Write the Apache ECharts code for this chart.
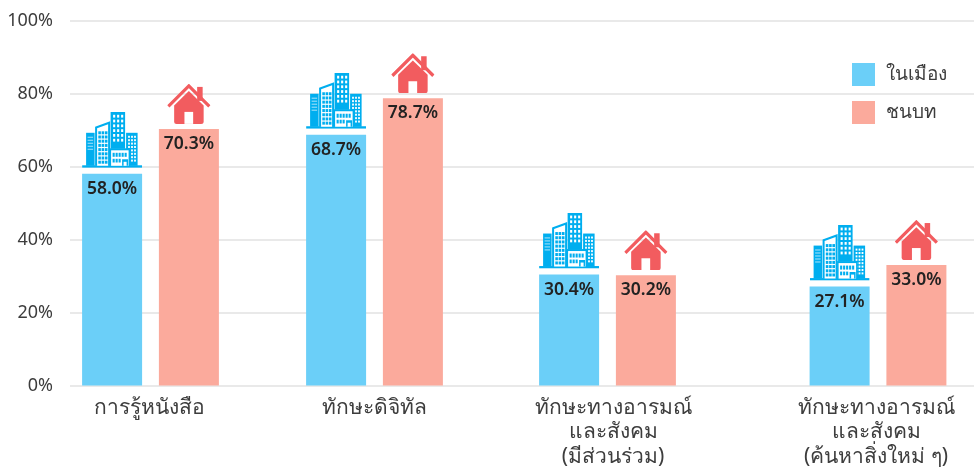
<!DOCTYPE html>
<html><head><meta charset="utf-8">
<style>html,body{margin:0;padding:0;background:#fff}#c{width:974px;height:469px}</style>
<script src="https://cdn.jsdelivr.net/npm/echarts@6/dist/echarts.min.js"></script>
</head><body><div id="c"></div>
<script>
const categories = ['การรู้หนังสือ', 'ทักษะดิจิทัล', 'ทักษะทางอารมณ์\nและสังคม\n(มีส่วนร่วม)', 'ทักษะทางอารมณ์\nและสังคม\n(ค้นหาสิ่งใหม่ ๆ)'];
const urbanValues = [58.0, 68.7, 30.4, 27.1];
const ruralValues = [70.3, 78.7, 30.2, 33.0];
const seriesNames = ['ในเมือง', 'ชนบท'];
const slots = [[70,161,[0,2,0,0]],[231,287,[0,0,0,0]],[518,179,[0,0,0,11]],[782,192,[0,4,0,0]]]; // grid left, width, label padding

const FONT = '"Noto Sans","Open Sans",sans-serif';
const BLUE='#00AEEF', RED='#F25C5F';
function cells(xs, ys, w, h, c){let s='';for(const y of ys)for(const x of xs)s+=`<rect x="${x}" y="${y}" width="${w}" height="${h}" fill="${c}"/>`;return s;}
function range(a,b,st){const r=[];for(let v=a;v<=b;v+=st)r.push(v);return r;}
const buildingSvg = `<svg xmlns="http://www.w3.org/2000/svg" width="240" height="224" viewBox="0 0 60 56">`
 +`<rect x="0" y="53.5" width="60" height="2.5" fill="${BLUE}"/>`
 +`<rect x="4" y="21" width="8.5" height="33" fill="${BLUE}"/>`
 +cells([5.5],[25,28,31,34,37],5.5,.8,'#d5f1fc')
 +`<path d="M13 54V15L28 9.5V54Z" fill="${BLUE}"/><path d="M15 54V16.5L26 12.5V54Z" fill="#fff"/>`
 +cells([16.2,19.5,22.8],range(19.5,50,4.2),2.6,3,BLUE)
 +`<rect x="28.5" y="0" width="14.5" height="37" fill="${BLUE}"/>`
 +cells([31,35,39],range(3,31,4.8),2.1,2.8,'#fff')
 +`<rect x="44" y="21" width="11.5" height="33" fill="${BLUE}"/>`
 +cells([46,49,52],range(24,50,3.4),1.8,2,'#fff')
 +`<rect x="27.5" y="36.5" width="20.5" height="17.5" fill="${BLUE}"/><rect x="29" y="38.5" width="17.5" height="15.5" fill="#fff"/>`
 +cells([30.5,33.5,36.5,39.5,42.5],[41],2.1,4,BLUE)
 +cells([30.5,33.5,36.5],[47],2.1,3.7,BLUE)
 +`<path d="M40 54V47.5H46V54Z" fill="${BLUE}"/><rect x="41.5" y="50" width="3" height="4" fill="#fff"/>`
 +`</svg>`;
const houseSvg = `<svg xmlns="http://www.w3.org/2000/svg" width="174" height="160" viewBox="0 0 43.5 40">`
 +`<rect x="30" y="3" width="5.5" height="14" fill="${RED}"/>`
 +`<path d="M1.2 22.5L21.7 2L42.2 22.5" fill="none" stroke="${RED}" stroke-width="3.2"/>`
 +`<path d="M7 21.5L21.7 7.2L36.5 21.5V37.5Q36.5 40 34 40H9.5Q7 40 7 37.5Z" fill="${RED}"/>`
 +`<rect x="17.3" y="28" width="8.7" height="12" fill="#fff"/></svg>`;
const uri = s => 'image://data:image/svg+xml;charset=utf-8,' + encodeURIComponent(s);

const grids = [{left:70, right:0, top:20.5, height:365}];
const xAxes = [{type:'category', gridIndex:0, data:[''], show:false}];
const yAxes = [{type:'value', gridIndex:0, min:0, max:100, interval:20,
  axisLine:{show:false}, axisTick:{show:false},
  axisLabel:{formatter:'{value}%', margin:17, color:'#3d3d3d', fontSize:18, fontFamily:FONT, padding:[2,0,0,0]},
  splitLine:{lineStyle:{color:'#e2e2e2', width:1.5}}}];
const series = [];
categories.forEach((cat,i)=>{
  const g=i+1;
  grids.push({left:slots[i][0], width:slots[i][1], top:20.5, height:365});
  xAxes.push({type:'category', gridIndex:g, data:[cat], axisLine:{show:false}, axisTick:{show:false},
    axisLabel:{interval:0, margin:10, color:'#3d3d3d', fontSize:21, lineHeight:24.5, fontFamily:FONT, padding:slots[i][2]}});
  yAxes.push({type:'value', gridIndex:g, min:0, max:100, interval:20, show:false});
  [[urbanValues,'#6BCFF8',uri(buildingSvg),[60,56],-34],[ruralValues,'#FBAA9C',uri(houseSvg),[43.5,40],-25]].forEach((s,k)=>{
    series.push({type:'bar', name:seriesNames[k], xAxisIndex:g, yAxisIndex:g, barWidth:60, barGap:'28%',
      data:[s[0][i]], itemStyle:{color:s[1]},
      label:{show:true, position:'insideTop', distance:6, color:'#222', fontSize:17.5, fontWeight:600, fontFamily:FONT,
        formatter:p=>p.value.toFixed(1)+'%'},
      markPoint:{silent:true, symbol:s[2], symbolSize:s[3], symbolOffset:[0,s[4]], symbolKeepAspect:false, label:{show:false},
        data:[{xAxis:0, yAxis:s[0][i]}]},
      animation:false});
  });
});
const chart = echarts.init(document.getElementById('c'), null, {renderer:'canvas'});
chart.setOption({animation:false, backgroundColor:'#fff', grid:grids, xAxis:xAxes, yAxis:yAxes, series,
  legend:{show:true, orient:'vertical', left:852, top:63, padding:0, icon:'rect', itemWidth:23, itemHeight:23, itemGap:15,
    data:seriesNames, textStyle:{color:'#3d3d3d', fontSize:19, fontFamily:FONT, padding:[0,0,0,6]}}});
</script></body></html>
